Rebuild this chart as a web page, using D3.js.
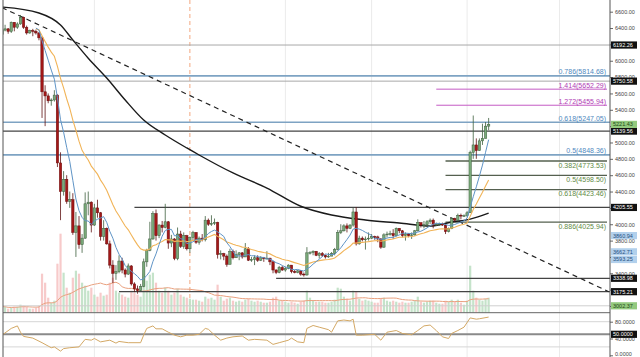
<!DOCTYPE html>
<html><head><meta charset="utf-8">
<script src="https://cdn.jsdelivr.net/npm/d3@7"></script>
<style>
body{margin:0;background:#fff;}
svg{display:block;font-family:"Liberation Sans",Arial,sans-serif;}
</style></head>
<body><svg id="c" width="640" height="357"></svg>
<script>
// ---------------- DATA ----------------
const startDate = "2018-11-01";
const opens = [
 6320,6375,6390,6360,6470,6410,6450,6530,6410,6340,6370,6360,6340,6280,5620,5570,5510,5520,5580,4750,4400,4550,4280,4300,3900,3980,3750,3830,4250,4270,
 3990,4200,4140,3850,3950,3760,3500,3400,3420,3550,3440,3390,3490,3270,3210,3190,3240,3540,3680,3820,4130,3860,3990,3960,4030,3770,3820,3580,3880,3730,3860,
 3700,3840,3900,3780,3830,3810,4050,4000,4010,4020,3630,3640,3610,3510,3670,3590,3630,3650,3600,3700,3560,3570,3590,3560,3590,3580,3585,3540,3440,3410,3470,
 3440,3460,3500,3420,3410,3430,3390,3380,3650,3655,3670,3620,3640,3620,3600,3610,3640,3690,3900,3920,3980,3950,3990,4150,3760,3830,3810,3820,
 3830,3850,3845,3820,3720,3870,3880,3885,3860,3950,3920,3860,3880,3860,3870,3920,4020,3990,3995,4030,4050,3990,4000,4010,3990,3910,3950,4070,4050,4110,4100,
 4105,4140,4880,4970,4900,5020,5050,5200];
const highs = [
 6390,6440,6400,6480,6470,6470,6560,6540,6430,6380,6390,6380,6350,6300,5700,5600,5540,5640,5590,4880,4650,4600,4400,4380,4150,4100,3880,4390,4400,4280,
 4250,4300,4150,4050,3960,3800,3560,3500,3620,3590,3460,3520,3500,3290,3250,3270,3580,3700,4030,4160,4180,4000,4040,4250,4040,3870,3830,3960,3920,3900,3870,
 3850,3920,3900,3850,3880,4100,4070,4110,4070,4030,3680,3650,3630,3700,3690,3680,3660,3660,3770,3720,3600,3620,3620,3610,3600,3670,3590,3550,3450,3490,3490,
 3480,3510,3500,3440,3440,3440,3410,3720,3670,3680,3670,3660,3660,3630,3650,3660,3710,3930,4000,4000,4010,4000,4200,4210,3860,3850,3850,3900,
 3880,3860,3860,3830,3890,3910,3920,3940,3960,3950,3930,3900,3890,3900,3930,4060,4020,4040,4050,4070,4070,4020,4020,4020,4000,3960,4080,4080,4130,4130,4120,
 4160,4900,5330,5050,5050,5230,5250,5300];
const lows = [
 6300,6360,6330,6340,6360,6390,6440,6390,6320,6330,6300,6320,6250,5300,5200,5480,5450,5500,4700,4050,4350,4250,4200,3870,3600,3700,3650,3820,4110,3900,
 3980,4080,3800,3800,3750,3460,3280,3320,3400,3400,3350,3380,3250,3170,3150,3180,3230,3480,3670,3810,3800,3830,3900,3950,3700,3720,3560,3560,3710,3700,3680,
 3650,3800,3760,3750,3790,3790,3980,3980,3990,3580,3570,3560,3480,3510,3570,3590,3560,3580,3600,3550,3540,3500,3540,3550,3540,3570,3500,3400,3390,3400,3430,
 3420,3450,3400,3400,3400,3370,3360,3370,3630,3620,3610,3580,3600,3580,3590,3610,3620,3680,3880,3910,3900,3940,3970,3740,3750,3790,3690,3800,
 3820,3810,3780,3700,3710,3840,3860,3820,3850,3890,3840,3800,3840,3820,3860,3910,3960,3950,3970,4000,3950,3980,3980,3980,3880,3900,3940,4030,4040,4060,4090,
 4090,4140,4800,4800,4900,4970,5050,5150];
const closes = [
 6375,6390,6360,6470,6410,6450,6530,6410,6340,6370,6360,6340,6280,5620,5570,5510,5520,5580,4750,4400,4550,4280,4300,3900,3980,3750,3830,4250,4270,3990,
 4200,4140,3850,3950,3760,3500,3400,3420,3550,3440,3390,3490,3270,3210,3190,3240,3540,3680,3820,4130,3860,3990,3960,4030,3770,3820,3580,3880,3730,3860,3700,
 3840,3900,3780,3830,3810,4050,4000,4010,4020,3630,3640,3610,3510,3670,3590,3630,3650,3600,3700,3560,3570,3590,3560,3590,3580,3585,3540,3440,3410,3470,3440,
 3460,3500,3420,3410,3430,3390,3380,3650,3655,3670,3620,3640,3620,3600,3610,3640,3690,3900,3920,3980,3950,3990,4150,3760,3830,3810,3820,3830,
 3850,3845,3820,3720,3870,3880,3885,3860,3950,3920,3860,3880,3860,3870,3920,4020,3990,3995,4030,4050,3990,4000,4010,3990,3910,3950,4070,4050,4110,4100,4105,
 4140,4880,4970,4900,5020,5050,5200,5221.43];
const volumes = [
 6,6,4,5,6,6,8,7,6,4,4,5,7,39,30,15,10,12,49,79,40,25,20,35,42,39,30,27,22,25,
 18,16,20,17,18,30,35,22,20,18,16,15,22,20,18,16,39,32,38,40,30,22,20,25,22,18,20,24,18,16,15,
 14,13,13,12,11,16,14,15,13,28,16,12,14,15,12,11,12,11,13,14,12,11,12,11,10,10,11,15,16,12,12,
 11,10,11,10,9,11,12,22,15,12,11,11,11,10,10,11,13,25,24,16,14,12,22,21,14,12,13,12,
 11,10,10,14,15,12,11,12,11,10,11,10,10,11,12,16,11,10,11,12,12,10,9,9,12,11,13,11,13,10,8,
 12,47,22,15,13,12,14,15];
// long moving average (black)
const longMaDates = ["2018-11-01","2018-11-13","2018-11-20","2018-11-24","2018-11-29","2018-12-05","2018-12-11","2018-12-17","2018-12-24","2018-12-31","2019-01-04","2019-01-15","2019-01-26","2019-02-06","2019-02-16","2019-02-27","2019-03-10","2019-03-20","2019-03-27","2019-04-02","2019-04-08"];
const longMaValues = [6657,6584,6437,6254,6031,5789,5520,5275,5092,4933,4847,4627,4443,4220,4113,4052,4015,3978,4027,4063,4137];
// descending trend line
const trendDates = ["2018-11-01","2019-05-17"];
const trendValues = [6650,3175.21];
// RSI (day index from start, value)
const rsiIndex = [0,3,5,6,7,10,13,16,17,19,20,22,25,27,29,30,32,35,37,38,41,45,46,47,49,50,52,54,56,58,60,62,64,66,67,69,71,73,75,78,80,82,86,88,90,93,94,96,98,99,101,103,106,107,109,111,113,114,115,117,121,123,125,128,130,133,135,137,139,141,143,145,146,148,150,152,154,155,158];
const rsiValues = [48,64,70,55,45,41,30,18,20,10,16,18,20,38,36,40,32,36,29,33,30,30,48,64,70,63,63,55,48,44,48,48,50,64,62,48,36,41,44,46,36,38,36,26,30,36,41,32,30,64,71,67,61,55,82,84,82,86,48,48,50,36,55,59,52,49,59,70,72,59,44,40,52,59,67,89,86,87,91];
// horizontal levels
const greyLevels = [6192.26, 5750.58];
const darkLevels = [5139.56, 4205.55, 3338.98, 3175.21];
const darkLevelStarts = [null, "2018-12-14", "2019-01-29", "2018-12-09"];
const fibBlueRatios = ["0.786","0.618","0.5"];
const fibBlueValues = [5814.68, 5247.05, 4848.36];
const fibPinkRatios = ["1.414","1.272"];
const fibPinkValues = [5652.29, 5455.94];
const fibPinkStart = "2019-03-22";
const fibGreenRatios = ["0.382","0.5","0.618","0.886"];
const fibGreenValues = [4773.53, 4598.50, 4423.46, 4025.94];
const fibGreenStart = "2019-03-25";
const lastLevel = 3002.37;
const priceTicks = [6600,6400,6200,6000,5800,5600,5400,5200,5000,4800,4600,4400,4200,4000,3800,3600,3400,3200,3000];
const priceTickLabels = [6600,6400,6000,5800,5600,5400,5000,4800,4600,4400,4000,3800,3400];
const rsiTicks = [0,40,80];
const rsiLevels = [80,50,20];
const blackTags = [6192.26,5750.58,5139.56,4205.55,3338.98,3175.21];
const greenTags = [5221.43, 3002.37];
const blueTags = [3860.94, 3662.71, 3593.25];
const monthLines = ["2018-12-01","2019-02-01","2019-03-01","2019-04-01","2019-05-01"];
const yearLine = "2019-01-01";

// ---------------- SCALES ----------------
const parse = d3.timeParse("%Y-%m-%d");
const t0 = parse(startDate);
const n = closes.length;
const dates = d3.timeDay.range(t0, d3.timeDay.offset(t0, n));
const W = 640, H = 357, L = 3, R = 610, PB = 312.7;
const x = d3.scaleTime().domain([t0, parse("2019-05-18")]).range([2, 2 + 198 * 3.08]);
const y = d3.scaleLinear().domain([2918, 6743]).range([PB, 0]);
const yv = d3.scaleLinear().domain([0, 80]).range([PB, PB - 80]);
const yr = d3.scaleLinear().domain([0, 100]).range([355.3, 313.3]);

const svg = d3.select("#c");
const defs = svg.append("defs");
defs.append("clipPath").attr("id","cp").append("rect").attr("x",L).attr("y",0).attr("width",R-L).attr("height",PB);
defs.append("clipPath").attr("id","cr").append("rect").attr("x",L).attr("y",PB).attr("width",R-L).attr("height",H-PB);

const gGrid = svg.append("g");
monthLines.forEach(d => gGrid.append("line").attr("x1",x(parse(d))).attr("x2",x(parse(d))).attr("y1",0).attr("y2",H).attr("stroke","#ebebeb").attr("stroke-width",1));
gGrid.append("line").attr("x1",x(parse(yearLine))).attr("x2",x(parse(yearLine))).attr("y1",0).attr("y2",PB)
  .attr("stroke","#f3a77f").attr("stroke-width",1).attr("stroke-dasharray","4,3");

const gP = svg.append("g").attr("clip-path","url(#cp)");

// volume
gP.selectAll("rect.v").data(d3.range(n)).join("rect")
  .attr("x", i => x(dates[i]) - 1.1).attr("width", 2.2)
  .attr("y", i => yv(volumes[i])).attr("height", i => PB - yv(volumes[i]))
  .attr("fill", i => closes[i] >= opens[i] ? "#bfe0c4" : "#f6c4c4").attr("opacity",0.9);
const volMa = d3.range(n).map(i => d3.mean(volumes.slice(Math.max(0, i - 19), i + 1)));
gP.append("path").attr("d", d3.line().x((d,i)=>x(dates[i])).y(d=>yv(d))(volMa))
  .attr("fill","none").attr("stroke","#e9a07e").attr("stroke-width",1);

// horizontal levels
greyLevels.forEach(v => gP.append("line").attr("x1",L).attr("x2",R).attr("y1",y(v)).attr("y2",y(v)).attr("stroke","#a8a8a8").attr("stroke-width",1));
gP.append("line").attr("x1",L).attr("x2",R).attr("y1",y(lastLevel)).attr("y2",y(lastLevel)).attr("stroke","#cfcfcf").attr("stroke-width",1);
darkLevels.forEach((v,k) => {
  const xs = darkLevelStarts[k] ? x(parse(darkLevelStarts[k])) : L;
  gP.append("line").attr("x1",xs).attr("x2",R).attr("y1",y(v)).attr("y2",y(v)).attr("stroke","#444").attr("stroke-width",1.2);
});
fibBlueValues.forEach(v => gP.append("line").attr("x1",L).attr("x2",R).attr("y1",y(v)).attr("y2",y(v)).attr("stroke","#7ea3c3").attr("stroke-width",1.6));
fibPinkValues.forEach(v => gP.append("line").attr("x1",x(parse(fibPinkStart))).attr("x2",607).attr("y1",y(v)).attr("y2",y(v)).attr("stroke","#c45ac4").attr("stroke-width",1));
fibGreenValues.forEach(v => gP.append("line").attr("x1",x(parse(fibGreenStart))).attr("x2",607).attr("y1",y(v)).attr("y2",y(v)).attr("stroke","#55604f").attr("stroke-width",1.3));

// long MA and trend
gP.append("path").attr("d", d3.line().curve(d3.curveMonotoneX).x((d,i)=>x(parse(longMaDates[i]))).y(d=>y(d))(longMaValues))
  .attr("fill","none").attr("stroke","#1a1a1a").attr("stroke-width",1.4);
gP.append("path").attr("d", d3.line().x((d,i)=>x(parse(trendDates[i]))).y(d=>y(d))(trendValues))
  .attr("fill","none").attr("stroke","#222").attr("stroke-width",1.2).attr("stroke-dasharray","5,4");

// candles
const up = i => closes[i] >= opens[i];
const cg = gP.append("g");
cg.selectAll("line").data(d3.range(n)).join("line")
  .attr("x1", i => x(dates[i])).attr("x2", i => x(dates[i]))
  .attr("y1", i => y(highs[i])).attr("y2", i => y(lows[i]))
  .attr("stroke", i => up(i) ? "#3f5f3f" : "#5e1212").attr("stroke-width",0.8);
cg.selectAll("rect").data(d3.range(n)).join("rect")
  .attr("x", i => x(dates[i]) - 1.2).attr("width", 2.4)
  .attr("y", i => y(Math.max(opens[i], closes[i])))
  .attr("height", i => Math.max(0.8, Math.abs(y(opens[i]) - y(closes[i]))))
  .attr("fill", i => up(i) ? "#79a979" : "#a31818")
  .attr("stroke", i => up(i) ? "#3f5f3f" : "#6a0d0d").attr("stroke-width",0.5);

// short MAs
const sma7 = d3.range(n).map(i => i < 6 ? null : d3.mean(closes.slice(i - 6, i + 1)));
const ema20 = []; const a = 2 / 21;
closes.forEach((c,i) => ema20.push(i === 0 ? c : a * c + (1 - a) * ema20[i - 1]));
const lineP = d3.line().defined((d,i)=> d !== null && i >= 11).x((d,i)=>x(dates[i])).y(d=>y(d));
gP.append("path").attr("d", lineP(ema20)).attr("fill","none").attr("stroke","#f1b458").attr("stroke-width",1.1);
gP.append("path").attr("d", lineP(sma7)).attr("fill","none").attr("stroke","#5f94c6").attr("stroke-width",1);

// fib labels
const gT = svg.append("g").style("font-size","7px").attr("text-anchor","end");
fibBlueValues.forEach((v,k) => gT.append("text").attr("x",606).attr("y",y(v)-1.6).attr("fill","#4f89c0").text(`${fibBlueRatios[k]}(${v.toFixed(2)})`));
fibPinkValues.forEach((v,k) => gT.append("text").attr("x",606).attr("y",y(v)-1.6).attr("fill","#b03cb4").text(`${fibPinkRatios[k]}(${v.toFixed(2)})`));
fibGreenValues.forEach((v,k) => gT.append("text").attr("x",606).attr("y",y(v)+6.8).attr("fill","#5f8a45").text(`${fibGreenRatios[k]}(${v.toFixed(2)})`));

// RSI pane
const gR = svg.append("g").attr("clip-path","url(#cr)");
rsiLevels.forEach(v => gR.append("line").attr("x1",L).attr("x2",R).attr("y1",yr(v)).attr("y2",yr(v))
  .attr("stroke", v === 50 ? "#8a8a8a" : "#d6d6d6").attr("stroke-width", v === 50 ? 2 : 1));
gR.append("path").attr("d", d3.line().x((d,i)=>x(dates[rsiIndex[i]])).y(d=>yr(d))(rsiValues))
  .attr("fill","none").attr("stroke","#d3a865").attr("stroke-width",1);

// frame
svg.append("line").attr("x1",L).attr("x2",R).attr("y1",PB).attr("y2",PB).attr("stroke","#666").attr("stroke-width",1);
svg.append("line").attr("x1",L).attr("x2",L).attr("y1",0).attr("y2",H).attr("stroke","#555").attr("stroke-width",1);

// axes
const ax = svg.append("g").attr("transform",`translate(${R},0)`)
  .call(d3.axisRight(y).tickValues(priceTicks).tickFormat(d => priceTickLabels.includes(d) ? d3.format(".2f")(d) : "").tickSize(3));
const axr = svg.append("g").attr("transform",`translate(${R},0)`)
  .call(d3.axisRight(yr).tickValues(rsiTicks).tickFormat(d3.format(".4f")).tickSize(3));
[ax, axr].forEach(g => {
  g.select(".domain").remove();
  g.selectAll("line").attr("stroke","#666");
  g.selectAll("text").attr("x",5).style("font-size","5.5px").style("font-family","Liberation Sans, Arial").attr("fill","#444");
});
axr.selectAll("text").filter(d => d === 0).attr("dy","0.1em");
svg.append("line").attr("x1",R).attr("x2",R).attr("y1",0).attr("y2",H).attr("stroke","#555").attr("stroke-width",1);

// value tags
function tag(yPos, label, fill, color) {
  svg.append("rect").attr("x",R+1).attr("y",yPos-3.6).attr("width",26).attr("height",7.2).attr("fill",fill);
  svg.append("text").attr("x",R+3).attr("y",yPos+2).style("font-size","5.5px").attr("fill",color).text(label);
}
blackTags.forEach(v => tag(y(v), v.toFixed(2), "#111", "#fff"));
greenTags.forEach(v => tag(y(v), v.toFixed(2), "#93c97e", "#1f4a17"));
blueTags.forEach((v,k) => tag(y(v) + (k === 2 ? 2 : 0), v.toFixed(2), "#b2d0ec", "#1f4f80"));
tag(yr(50), "50.0000", "#111", "#fff");
</script></body></html>
